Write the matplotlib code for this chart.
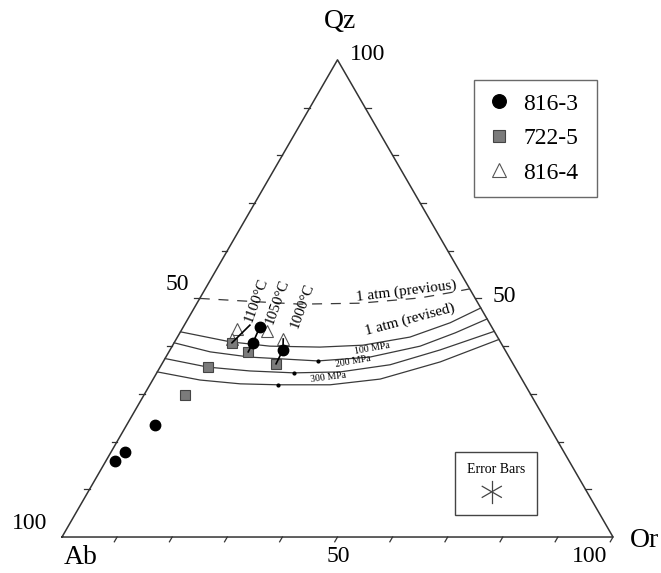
import numpy as np
import matplotlib.pyplot as plt
from matplotlib.lines import Line2D
from matplotlib.patches import Rectangle

plt.rcParams['font.family'] = ['Liberation Serif', 'DejaVu Serif']

# glass compositions, normative wt% (Or, Qz); Ab = 100 - Or - Qz
s8163_or = [13.9, 14.3, 20.5, 5.1, 2.5, 1.7]
s8163_qz = [44.0, 40.7, 39.2, 23.5, 17.8, 15.9]
s7225_or = [10.5, 14.4, 20.7, 8.7, 7.4]
s7225_qz = [40.7, 38.8, 36.3, 35.6, 29.8]
s8164_or = [10.0, 10.1, 15.6, 19.4]
s8164_qz = [43.6, 41.5, 43.2, 41.5]

# tie lines at each run temperature
tie_1100_or = [11.9, 10.5]
tie_1100_qz = [44.4, 40.7]
tie_1050_or = [13.9, 14.3, 14.4]
tie_1050_qz = [44.0, 40.7, 38.8]
tie_1000_or = [19.4, 20.5, 20.7]
tie_1000_qz = [41.5, 39.2, 36.3]

# quartz-feldspar cotectics
prev_or = [0, 7.6, 18.8, 29.6, 39.9, 44.8, 48.0]
prev_qz = [50.0, 49.5, 48.8, 49.0, 50.1, 51.2, 52.0]
rev_or = [0, 10.1, 17.7, 26.9, 34.5, 42.2, 48.0, 52.0]
rev_qz = [43.0, 40.9, 40.0, 39.8, 40.2, 41.9, 44.9, 48.0]
mpa100_or = [0, 7.5, 15.3, 28.0, 37.0, 45.0, 50.0, 54.3]
mpa100_qz = [40.7, 38.8, 37.7, 36.9, 37.7, 40.0, 42.8, 45.7]
mpa200_or = [0, 8.7, 16.7, 24.9, 33.2, 41.5, 49.0, 56.9]
mpa200_qz = [37.4, 35.6, 34.8, 34.4, 34.6, 36.1, 39.2, 43.1]
mpa300_or = [0, 8.6, 16.3, 23.3, 32.7, 41.2, 50.3, 58.6]
mpa300_qz = [34.6, 32.9, 32.1, 31.9, 31.9, 33.1, 36.7, 41.4]

# minima
min_or = [28.0, 24.9, 23.3]
min_qz = [36.9, 34.4, 31.9]

# error bar half width (wt%)
err = 2.0

H = np.sqrt(3) / 2


def tern(or_, qz):
    or_ = np.asarray(or_, float)
    qz = np.asarray(qz, float)
    return or_ + qz / 2, qz * H


fig = plt.figure(figsize=(6.61, 5.73), dpi=100)
ax = fig.add_axes([0, 0, 1, 1])
ax.set_xlim(-11.25, 108.71)
ax.set_ylim(-6.53, 97.46)
ax.axis('off')

edge = '#333333'
ax.plot([0, 100, 50, 0], [0, 0, 100 * H, 0], color=edge, lw=1.1)

L = 1.0
for i in range(10, 101, 10):
    ax.plot([i, i - 0.5 * L], [0, -H * L], color=edge, lw=0.9)
for i in range(10, 100, 10):
    ax.plot([i / 2, i / 2 - L], [i * H, i * H], color=edge, lw=0.9)
    ax.plot([100 - i / 2, 100 - i / 2 + L], [i * H, i * H], color=edge, lw=0.9)

ax.text(50.45, 93.5, 'Qz', fontsize=20, ha='center', va='center')
ax.text(52.3, 87.5, '100', fontsize=17, ha='left', va='center')
ax.text(20.9, 45.9, '50', fontsize=17, ha='center', va='center')
ax.text(80.2, 43.6, '50', fontsize=17, ha='center', va='center')
ax.text(-5.8, 2.5, '100', fontsize=17, ha='center', va='center')
ax.text(3.3, -3.8, 'Ab', fontsize=20, ha='center', va='center')
ax.text(50.1, -3.6, '50', fontsize=17, ha='center', va='center')
ax.text(95.8, -3.6, '100', fontsize=17, ha='center', va='center')
ax.text(105.8, -0.7, 'Or', fontsize=20, ha='center', va='center')

curve = '#3a3a3a'
ax.plot(*tern(prev_or, prev_qz), color=curve, lw=0.9, dashes=(8, 7))
for o, q in [(rev_or, rev_qz), (mpa100_or, mpa100_qz),
             (mpa200_or, mpa200_qz), (mpa300_or, mpa300_qz)]:
    ax.plot(*tern(o, q), color=curve, lw=0.9)
ax.plot(*tern(min_or, min_qz), 'o', color='black', ms=2)

ax.text(62.4, 44.65, '1 atm (previous)', fontsize=11, rotation=7,
        ha='center', va='center')
ax.text(63.2, 39.4, '1 atm (revised)', fontsize=11, rotation=15,
        ha='center', va='center')
ax.text(56.3, 34.3, '100 MPa', fontsize=7, rotation=10, ha='center', va='center')
ax.text(52.8, 31.8, '200 MPa', fontsize=7, rotation=10, ha='center', va='center')
ax.text(48.3, 29.0, '300 MPa', fontsize=7, rotation=7, ha='center', va='center')

ax.text(35.2, 43.0, '1100°C', fontsize=11, rotation=70, ha='center', va='center')
ax.text(39.0, 42.7, '1050°C', fontsize=11, rotation=70, ha='center', va='center')
ax.text(43.7, 41.9, '1000°C', fontsize=11, rotation=70, ha='center', va='center')

circ = dict(marker='o', ls='none', color='black', ms=7.5)
sq = dict(marker='s', ls='none', mfc='#7b7b7b', mec='#444444', ms=6.5, mew=0.8)
tri = dict(marker='^', ls='none', mfc='white', mec='#555555', ms=8, mew=0.8)
ax.plot(*tern(s8164_or, s8164_qz), **tri)
ax.plot(*tern(s7225_or, s7225_qz), **sq)
ax.plot(*tern(s8163_or, s8163_qz), **circ)

for o, q in [(tie_1100_or, tie_1100_qz), (tie_1050_or, tie_1050_qz),
             (tie_1000_or, tie_1000_qz)]:
    ax.plot(*tern(o, q), color='black', lw=1.2, zorder=5)

handles = [Line2D([], [], **circ), Line2D([], [], **sq), Line2D([], [], **tri)]
leg = ax.legend(handles, ['816-3', '722-5', '816-4'], loc='upper left',
                bbox_to_anchor=(0.717, 0.6597, 0.186, 0.2007),
                bbox_transform=fig.transFigure, mode='expand',
                borderaxespad=0, fancybox=False, edgecolor='#444444',
                fontsize=17, markerscale=1.3, handlelength=1.0,
                handletextpad=0.55, labelspacing=0.55, borderpad=0.55)
leg.get_frame().set_linewidth(1.0)

# error bar box
ax.add_patch(Rectangle((71.3, 4.0), 14.9, 11.4, fill=False, ec='#444444', lw=1.0))
ax.text(78.8, 12.2, 'Error Bars', fontsize=10, ha='center', va='center')
cx, cy = 78.0, 8.2
for ang in [90, 30, 150]:
    dx = err * np.cos(np.radians(ang))
    dy = err * np.sin(np.radians(ang))
    ax.plot([cx - dx, cx + dx], [cy - dy, cy + dy], color='#444444', lw=0.9)

fig.savefig('out.png', dpi=100)
